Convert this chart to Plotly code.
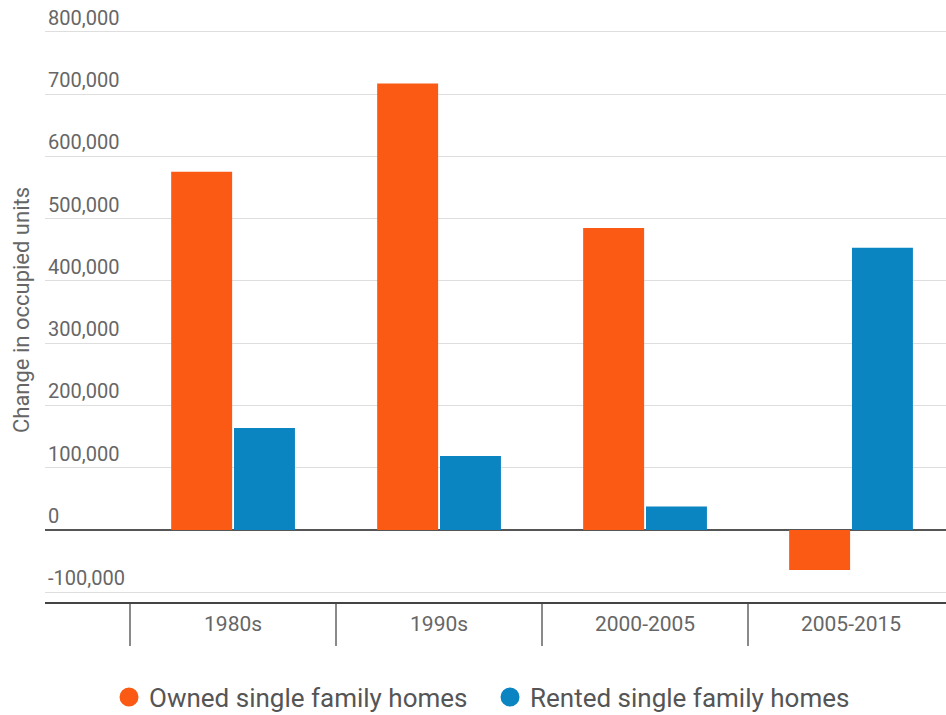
import plotly.graph_objects as go

periods = ["1980s", "1990s", "2000-2005", "2005-2015"]
owned = [575000, 717000, 485000, -64000]
rented = [164000, 119000, 38000, 453000]
y_ticks = [-100000, 0, 100000, 200000, 300000, 400000, 500000, 600000, 700000, 800000]
y_tick_text = ["-100,000", "0", "100,000", "200,000", "300,000", "400,000",
               "500,000", "600,000", "700,000", "800,000"]

ORANGE = "#FA5A14"
BLUE = "#0B84C2"
FONT = "Roboto"

fig = go.Figure()
fig.add_trace(go.Bar(x=periods, y=owned, name="Owned single family homes",
                     marker=dict(color=ORANGE, line=dict(width=0)), showlegend=False))
fig.add_trace(go.Bar(x=periods, y=rented, name="Rented single family homes",
                     marker=dict(color=BLUE, line=dict(width=0)), showlegend=False))

# circular legend entries
for name, col in [("Owned single family homes", ORANGE), ("Rented single family homes", BLUE)]:
    fig.add_trace(go.Scatter(x=[None], y=[None], mode="markers", name=name,
                             marker=dict(symbol="circle", size=16, color=col,
                                         line=dict(color=col, width=3))))

fig.update_layout(
    width=946, height=715,
    margin=dict(l=45, r=0, t=18, b=113),
    paper_bgcolor="white", plot_bgcolor="white",
    barmode="group", bargap=0.39, bargroupgap=0.03,
    font=dict(family=FONT, color="#666666"),
    showlegend=True,
    legend=dict(orientation="h", xref="container", yref="container",
                x=0.518, xanchor="center", y=0.025, yanchor="middle",
                entrywidth=336, entrywidthmode="pixels",
                font=dict(family=FONT, size=26, color="#555555"),
                bgcolor="rgba(0,0,0,0)"),
)

fig.update_xaxes(
    type="category", range=[-0.913, 3.461],
    showgrid=False, zeroline=False,
    showline=True, linecolor="#444444", linewidth=2,
    ticks="outside", tickson="boundaries", ticklen=42, tickwidth=1.5, tickcolor="#8a8a8a",
    ticklabelstandoff=2,
    tickfont=dict(family=FONT, size=21, color="#666666"),
)

fig.update_yaxes(
    range=[-115500, 822000],
    tickvals=y_ticks, ticktext=y_tick_text,
    showgrid=True, gridcolor="#dedede", gridwidth=1,
    zeroline=True, zerolinecolor="#555555", zerolinewidth=1.5,
    showline=False, ticks="",
    ticklabelposition="inside", ticklabeloverflow="allow",
    ticklabelshift=-14, ticklabelstandoff=0,
    tickfont=dict(family=FONT, size=20, color="#666666"),
    title=dict(text="Change in occupied units", standoff=12,
               font=dict(family=FONT, size=22, color="#666666")),
    automargin=False,
)

fig.write_html("out.html")
